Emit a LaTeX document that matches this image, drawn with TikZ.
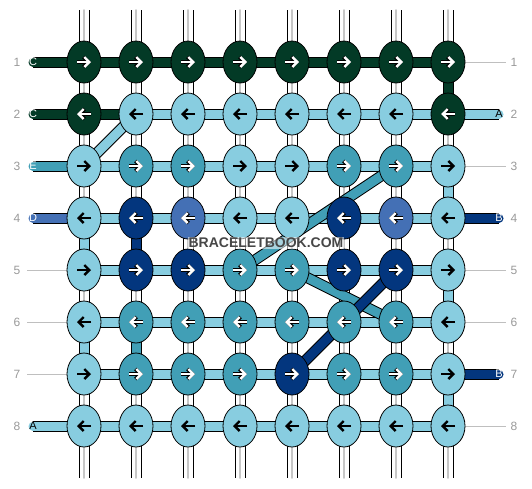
\documentclass[tikz,border=0pt]{standalone}
\usepackage{fontspec}
\setmainfont{Liberation Sans}
\usetikzlibrary{arrows.meta,shapes.geometric}

% thread colours
\definecolor{colG}{HTML}{033A26}
\definecolor{colL}{HTML}{88CDE0}
\definecolor{colT}{HTML}{419FB6}
\definecolor{colN}{HTML}{03367E}
\definecolor{colM}{HTML}{4470B5}
\colorlet{colW}{white}
% centre line of a link
\colorlet{midW}{black!22}
\colorlet{midG}{colG}\colorlet{midL}{colL}\colorlet{midT}{colT}
\colorlet{midN}{colN}\colorlet{midM}{colM}
% arrow and arrow outline
\colorlet{arrG}{white}\colorlet{arrL}{black}\colorlet{arrT}{white}
\colorlet{arrN}{white}\colorlet{arrM}{white}
\colorlet{outG}{black}\colorlet{outL}{colL}\colorlet{outT}{black}
\colorlet{outN}{black}\colorlet{outM}{black}

% row / direction / knots / links to the right / links down
\def\rows{%
  1/1/{G,G,G,G,G,G,G,G}/{G,G,G,G,G,G,G}/{W,W,W,W,W,W,W,G},%
  2/-1/{G,L,L,L,L,L,L,G}/{G,L,L,L,L,L,L}/{W,W,W,W,W,W,W,W},%
  3/1/{L,T,T,L,L,T,T,L}/{L,L,L,L,L,L,L}/{W,W,W,W,W,W,W,L},%
  4/-1/{L,N,M,L,L,N,M,L}/{L,L,L,L,L,L,L}/{L,N,W,W,W,W,W,W},%
  5/1/{L,N,N,T,T,N,N,L}/{L,L,L,L,L,L,L}/{W,W,W,W,W,W,W,L},%
  6/-1/{L,T,T,T,T,T,T,L}/{L,L,L,L,L,L,L}/{L,T,W,W,W,W,W,W},%
  7/1/{L,T,T,T,N,T,T,L}/{L,L,L,L,L,L,L}/{W,W,W,W,W,W,W,L},%
  8/-1/{L,L,L,L,L,L,L,L}/{L,L,L,L,L,L,L}/{W,W,W,W,W,W,W,W}}

\begin{document}
\begin{tikzpicture}[x=1pt, y=-1pt,
	bar/.style={preaction={draw=black, line width=11pt}, line width=9pt},
	mid/.style={line width=1.6pt, line cap=round},
	knot/.style={ellipse, draw=black, line width=0.8pt, minimum width=34pt, minimum height=42pt, inner sep=0pt},
	turn/.style={-{Straight Barb[length=5pt,width=10pt]}, line width=2.4pt},
	tag/.style={font=\fontsize{11}{11}\selectfont, inner sep=0pt},
	num/.style={font=\fontsize{12}{12}\selectfont, text=black!40, inner sep=0pt},
	tail/.style={draw=black!25, line width=0.8pt}]
	\useasboundingbox (0,0) rectangle (532,488);
	
	% Place knot centres (row 0 and 9 are the free ends)
	\foreach \row in {0,...,9}
		\foreach \col in {1,...,8}
			\coordinate (c-\row-\col) at (32+52*\col, 10+52*\row);
	\foreach \col in {1,...,8} {
		\draw [bar, draw=white, line cap=round] (c-0-\col) -- (c-1-\col);
		\draw [mid, draw=midW] (c-0-\col) -- (c-1-\col);
	}
	
	% Draw links
	\foreach \row/\dir/\knots/\links/\downs in \rows {
		\pgfmathtruncatemacro\nxt{\row+1}
		\foreach \c [count=\col] in \downs {
			\draw [bar, draw=col\c, line cap=round] (c-\row-\col) -- (c-\nxt-\col);
			\draw [mid, draw=mid\c] (c-\row-\col) -- (c-\nxt-\col);
		}
		\foreach \c [count=\col] in \links {
			\pgfmathtruncatemacro\nc{\col+1}
			\draw [bar, draw=col\c] (c-\row-\col) -- (c-\row-\nc);
		}
	}
	
	% Threads entering at the sides
	\foreach \row/\c/\fg/\txt in {1/G/white/C, 2/G/white/C, 3/T/white/E, 4/M/white/D, 8/L/black/A} {
		\coordinate (in-\row) at (33,10+52*\row);
		\draw [bar, draw=col\c, line cap=round] (in-\row) -- (c-\row-1);
		\node [tag, text=\fg] (tag-in-\row) at (in-\row) {\txt};
	}
	\foreach \row/\c/\fg/\txt in {2/L/black/A, 4/N/white/B, 7/N/white/B} {
		\coordinate (out-\row) at (499,10+52*\row);
		\draw [bar, draw=col\c, line cap=round] (c-\row-8) -- (out-\row);
		\node [tag, text=\fg] (tag-out-\row) at (out-\row) {\txt};
	}
	\foreach \row in {5,6,7} {
		\coordinate (end-in-\row) at (27,10+52*\row);
		\draw [tail] (end-in-\row) -- (c-\row-1);
	}
	\foreach \row in {1,3,5,6,8} {
		\coordinate (end-out-\row) at (506,10+52*\row);
		\draw [tail] (c-\row-8) -- (end-out-\row);
	}
	
	% Threads crossing over
	\draw [bar, draw=colL] (c-2-2) -- (c-3-1);
	\draw [bar, draw=colT] (c-3-7) -- (c-5-4);
	\draw [bar, draw=colT] (c-5-5) -- (c-6-7);
	\draw [bar, draw=colN] (c-5-7) -- (c-7-5);
	
	% Place knots
	\foreach \row/\dir/\knots/\links/\downs in \rows {
		\foreach \c [count=\col] in \knots {
			\node [knot, fill=col\c] (k-\row-\col) at (c-\row-\col) {};
			\draw [turn, draw=out\c, line width=3.6pt] (k-\row-\col.center) ++(-7*\dir,0) -- ++(14*\dir,0);
			\draw [turn, draw=arr\c] (k-\row-\col.center) ++(-7*\dir,0) -- ++(14*\dir,0);
		}
	}
	
	% Row numbers
	\foreach \row in {1,...,8} {
		\node [num] (num-in-\row) at (17,10+52*\row) {\row};
		\node [num] (num-out-\row) at (514,10+52*\row) {\row};
	}
	
	\node [font=\bfseries\fontsize{14}{14}\selectfont, text=black!72, fill=white, fill opacity=0.55, text opacity=1, inner sep=1pt] (mark) at (266,243) {BRACELETBOOK.COM};
\end{tikzpicture}
\end{document}
